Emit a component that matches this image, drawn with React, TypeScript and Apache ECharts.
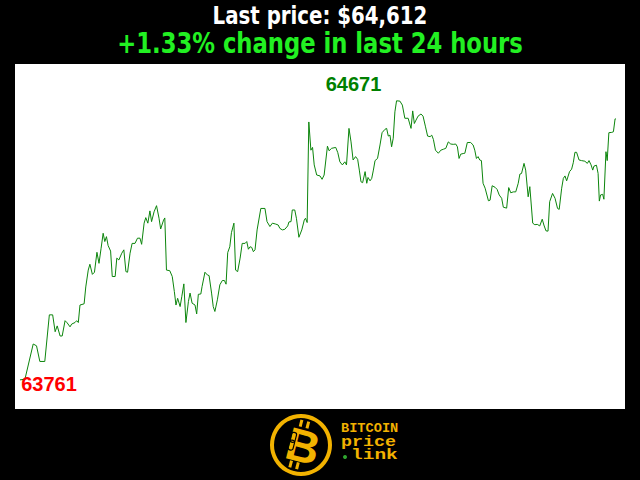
import React, { useEffect, useRef } from "react";
import * as echarts from "echarts";

// minutes since start of 24h window
const times = [
  0, 12, 32, 40, 48, 60, 71, 79, 85, 90, 97, 102, 109, 114, 121, 125, 133, 137, 141, 145,
  155, 159, 165, 169, 175, 180, 186, 191, 196, 201, 205, 209, 213, 219, 223, 230, 234, 239, 246, 251,
  256, 260, 266, 271, 278, 284, 290, 294, 300, 304, 309, 314, 318, 324, 330, 336, 340, 347, 350, 354,
  362, 368, 373, 377, 381, 387, 391, 396, 401, 407, 411, 416, 423, 427, 431, 437, 440, 447, 453, 457,
  463, 467, 471, 477, 483, 489, 494, 498, 502, 507, 511, 517, 521, 526, 532, 537, 544, 548, 552, 556,
  560, 564, 568, 573, 582, 592, 597, 604, 610, 618, 624, 628, 634, 640, 647, 650, 655, 658, 664, 668,
  674, 681, 687, 690, 694, 698,
  703, 707, 711, 717, 725, 730, 735, 743, 747, 753, 763, 768, 773, 779, 785, 789, 795, 800, 805, 811,
  816, 820, 824, 828, 834, 838, 841, 846, 850, 854, 858, 864, 870, 875, 882, 886, 890, 894, 898, 902,
  906, 910, 918, 924, 930, 938, 945, 949, 953, 957, 962, 969, 974, 980, 985, 991, 995, 999, 1004, 1011,
  1017, 1023, 1029, 1035, 1041, 1047, 1053, 1057, 1061, 1065, 1071, 1075,
  1081, 1089, 1095, 1099, 1103, 1107, 1111, 1115, 1119, 1124, 1132, 1136, 1141, 1148, 1153, 1158, 1164, 1168, 1176, 1181,
  1186, 1192, 1198, 1204, 1208, 1212, 1218, 1222, 1228, 1232, 1239, 1244, 1250, 1256, 1262, 1266, 1271, 1276, 1280, 1287,
  1293, 1299, 1303, 1309, 1313, 1317, 1321, 1328, 1333, 1337, 1341, 1345, 1351, 1357, 1365, 1371, 1375, 1380, 1384, 1387,
  1393, 1397, 1400, 1403, 1408, 1411, 1416, 1419, 1423, 1430, 1434, 1438, 1440,
];

// BTC price (USD)
const prices = [
  63761, 63763, 63878, 63872, 63821, 63821, 63973, 63973, 63918, 63937, 63904, 63904, 63954, 63947, 63934, 63943, 63948, 63954, 63948, 64005,
  64009, 64064, 64119, 64138, 64105, 64112, 64177, 64141, 64190, 64239, 64212, 64228, 64199, 64181, 64098, 64098, 64158, 64152, 64174, 64185,
  64114, 64112, 64174, 64206, 64206, 64223, 64223, 64203, 64272, 64290, 64272, 64312, 64277, 64309, 64329, 64288, 64253, 64282, 64289, 64119,
  64117, 64098, 64049, 64005, 64027, 64000, 64032, 64074, 63948, 64016, 64044, 64011, 64005, 63976, 64040, 64041, 64065, 64112, 64103, 64101,
  64044, 64000, 63984, 64022, 64071, 64085, 64085, 64073, 64176, 64195, 64241, 64272, 64119, 64114, 64158, 64206, 64206, 64212, 64187, 64195,
  64193, 64179, 64185, 64250, 64320, 64320, 64277, 64261, 64272, 64269, 64266, 64255, 64250, 64252, 64263, 64276, 64277, 64315, 64315, 64288,
  64226, 64250, 64282, 64288, 64274, 64602,
  64510, 64519, 64462, 64429, 64426, 64415, 64429, 64523, 64508, 64516, 64519, 64502, 64472, 64462, 64472, 64462, 64581, 64537, 64478, 64489,
  64480, 64445, 64407, 64404, 64440, 64402, 64421, 64410, 64418, 64445, 64476, 64483, 64527, 64567, 64578, 64581, 64556, 64559, 64521, 64549,
  64635, 64671, 64670, 64657, 64614, 64614, 64581, 64638, 64597, 64608, 64621, 64628, 64621, 64586, 64556, 64554, 64559, 64545, 64510, 64500,
  64510, 64513, 64516, 64537, 64530, 64529, 64530, 64521, 64483, 64497, 64499, 64500,
  64535, 64535, 64527, 64510, 64483, 64489, 64478, 64476, 64402, 64386, 64345, 64347, 64394, 64389, 64382, 64364, 64353, 64324, 64321, 64388,
  64371, 64374, 64374, 64402, 64432, 64434, 64467, 64445, 64358, 64391, 64272, 64267, 64268, 64263, 64285, 64266, 64247, 64246, 64342, 64369,
  64353, 64320, 64317, 64386, 64418, 64426, 64410, 64440, 64448, 64469, 64503, 64503, 64478, 64476, 64474, 64467, 64476, 64462, 64445, 64458,
  64461, 64434, 64344, 64364, 64366, 64350, 64505, 64476, 64567, 64568, 64570, 64612, 64612,
];

const titleLine1 = "Last price: $64,612";
const titleLine2 = "+1.33% change in last 24 hours";

const GOLD = "#f2b200";

export default function App() {
  const ref = useRef<HTMLDivElement>(null);
  useEffect(() => {
    if (!ref.current) return;
    const chart = echarts.init(ref.current, undefined, { renderer: "svg" });
    const data = times.map((t, i) => [t, prices[i]]);
    const titleFont = "'DejaVu Sans Condensed', 'Liberation Sans', sans-serif";
    const monoFont = "'Liberation Mono', 'DejaVu Sans Mono', monospace";
    chart.setOption({
      animation: false,
      backgroundColor: "#000000",
      grid: {
        left: 15,
        top: 64,
        width: 610,
        height: 345,
        show: true,
        backgroundColor: "#ffffff",
        borderWidth: 0,
      },
      xAxis: { type: "value", show: false, min: -12, max: 1462 },
      yAxis: { type: "value", show: false, min: 63666, max: 64791, splitLine: { show: false } },
      series: [
        {
          type: "line",
          data,
          showSymbol: false,
          lineStyle: { color: "#0c850c", width: 1 },
          markPoint: {
            symbol: "circle",
            symbolSize: 1,
            itemStyle: { color: "rgba(0,0,0,0)" },
            data: [
              {
                type: "max",
                label: {
                  show: true,
                  position: "inside",
                  formatter: "{c}",
                  color: "#008000",
                  fontSize: 20,
                  fontWeight: "bold",
                  fontFamily: "'Liberation Sans', Arial, sans-serif",
                  offset: [-43, -17],
                },
              },
              {
                type: "min",
                label: {
                  show: true,
                  position: "inside",
                  formatter: "{c}",
                  color: "#ff0000",
                  fontSize: 20,
                  fontWeight: "bold",
                  fontFamily: "'Liberation Sans', Arial, sans-serif",
                  offset: [29, 4],
                },
              },
            ],
          },
        },
      ],
      graphic: [
        {
          type: "text",
          x: 320,
          y: 16,
          scaleX: 0.88,
          style: {
            text: titleLine1,
            fill: "#ffffff",
            font: `bold 25px ${titleFont}`,
            textAlign: "center",
            textVerticalAlign: "middle",
          },
        },
        {
          type: "text",
          x: 320,
          y: 43,
          scaleX: 0.87,
          style: {
            text: titleLine2,
            fill: "#22f022",
            font: `bold 29px ${titleFont}`,
            textAlign: "center",
            textVerticalAlign: "middle",
          },
        },
        {
          type: "ring",
          shape: { cx: 301, cy: 445, r: 31, r0: 27 },
          style: { fill: GOLD },
        },
        {
          type: "group",
          x: 303,
          y: 446,
          rotation: -0.25,
          children: [
            { type: "rect", shape: { x: -9, y: -25, width: 3, height: 7 }, style: { fill: GOLD } },
            { type: "rect", shape: { x: -2, y: -25, width: 3, height: 7 }, style: { fill: GOLD } },
            { type: "rect", shape: { x: -9, y: 17, width: 3, height: 7 }, style: { fill: GOLD } },
            { type: "rect", shape: { x: -2, y: 17, width: 3, height: 7 }, style: { fill: GOLD } },
            {
              type: "text",
              x: 0,
              y: 0,
              style: {
                text: "B",
                fill: GOLD,
                font: "bold 46px 'Liberation Sans', Arial, sans-serif",
                textAlign: "center",
                textVerticalAlign: "middle",
              },
            },
            {
              type: "rect",
              shape: { x: -14, y: -11, width: 5, height: 10, r: 2 },
              style: { fill: "none", stroke: "#000", lineWidth: 1.2 },
            },
            {
              type: "rect",
              shape: { x: -14, y: -3, width: 5, height: 10, r: 2 },
              style: { fill: "none", stroke: "#000", lineWidth: 1.2 },
            },
          ],
        },
        {
          type: "text",
          x: 341,
          y: 429,
          scaleX: 1.05,
          style: {
            text: "BITCOIN",
            fill: GOLD,
            font: `bold 13px ${monoFont}`,
            textVerticalAlign: "middle",
          },
        },
        {
          type: "text",
          x: 341,
          y: 442,
          scaleX: 1.22,
          style: {
            text: "price",
            fill: GOLD,
            font: `bold 15px ${monoFont}`,
            textVerticalAlign: "middle",
          },
        },
        {
          type: "circle",
          shape: { cx: 345, cy: 457, r: 2 },
          style: { fill: "#2fa52f" },
        },
        {
          type: "text",
          x: 351,
          y: 455,
          scaleX: 1.3,
          style: {
            text: "link",
            fill: GOLD,
            font: `bold 15px ${monoFont}`,
            textVerticalAlign: "middle",
          },
        },
      ],
    });
    return () => chart.dispose();
  }, []);
  return (
    <div
      ref={ref}
      style={{ position: "fixed", left: 0, top: 0, width: 640, height: 480, background: "#000" }}
    />
  );
}
